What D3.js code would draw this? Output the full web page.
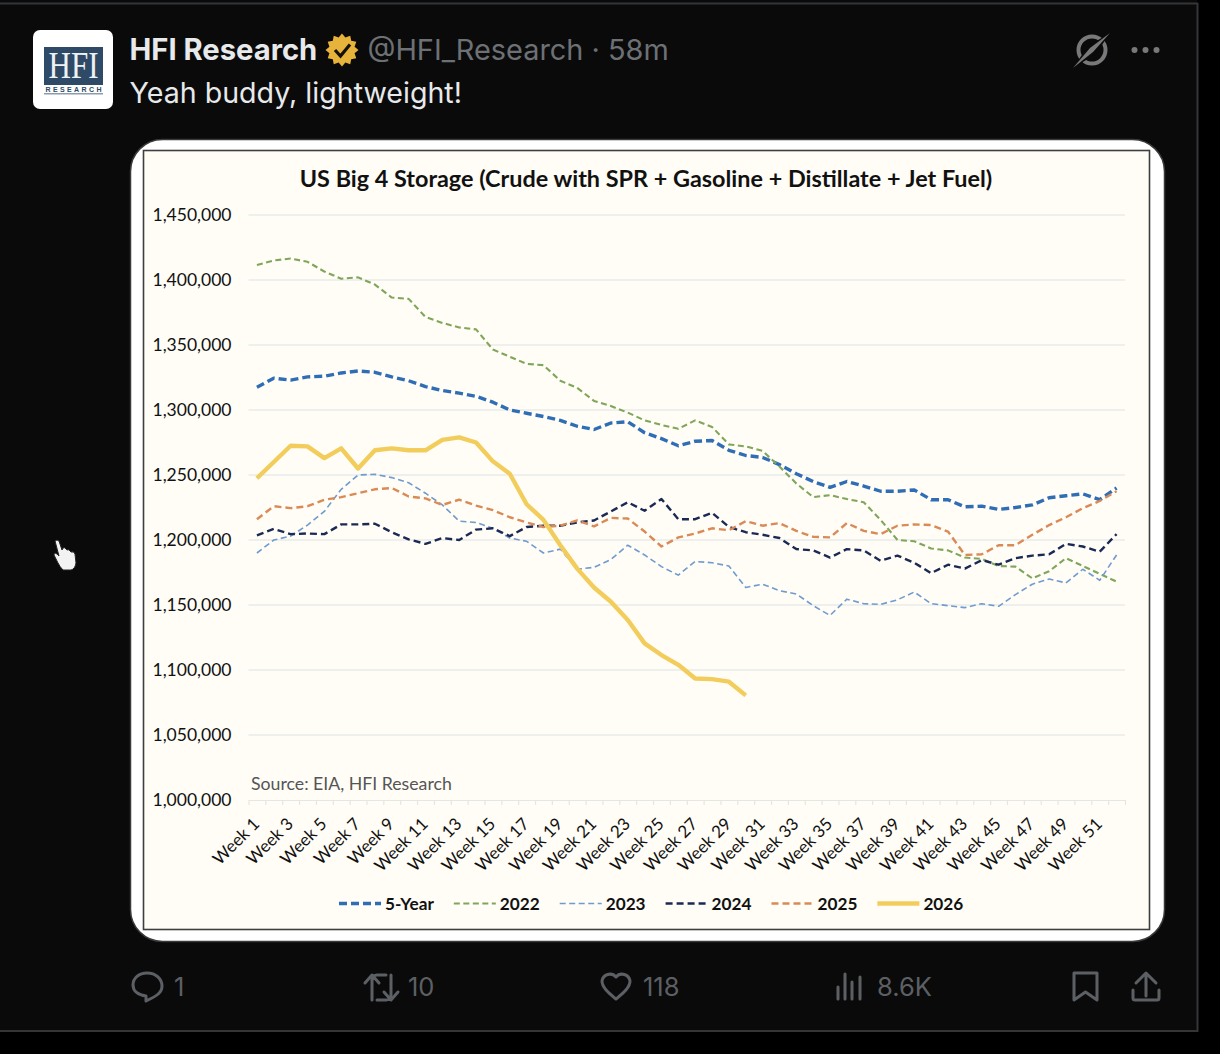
<!DOCTYPE html>
<html>
<head>
<meta charset="utf-8">
<script src="https://cdn.jsdelivr.net/npm/d3@7"></script>
<style>
html, body { margin: 0; padding: 0; background: #000; }
svg { display: block; }
.tw { font-family: Inter, Roboto, sans-serif; }
.ch { font-family: Lato, "Open Sans", sans-serif; }
</style>
</head>
<body>
<svg id="graphique" width="1220" height="1054"></svg>
<script>
// values in thousand barrels
var weeks = d3.range(1, 53);
var yTicks = [1000000, 1050000, 1100000, 1150000, 1200000, 1250000, 1300000, 1350000, 1400000, 1450000];

var fiveYear = [1317.5,1324.5,1323,1325.5,1326,1328.5,1330,1329,1325.5,1322.5,1318,1315,1313,1310.5,1306,1300,1297.5,1295,1292,1287.5,1285,1290,1291,1282.5,1278,1272.5,1276,1276.5,1269,1265,1263.5,1258,1251,1245,1240.5,1245,1241.5,1237.5,1237.5,1238.5,1231,1231,1225.5,1226,1223.5,1225,1227,1232.5,1234,1235.5,1231,1240];
var y2022 = [1411.5,1415,1416.5,1414,1406.5,1401,1402,1396.5,1386.5,1385.5,1371.5,1367,1363.5,1362,1346.5,1341,1335.5,1334.5,1322.5,1317,1307,1303,1298,1292,1288.5,1285.5,1292,1287,1273.5,1272,1268.5,1256.5,1243.5,1233,1234.5,1231.5,1229,1215.5,1200,1199,1193.5,1192,1186.5,1185.5,1180,1179.5,1170.5,1176,1186,1180,1174,1168];
var y2023 = [1190,1200,1203,1211.5,1222,1239,1250,1250.5,1248,1244,1236,1227,1214.5,1213.5,1209,1201.5,1199,1190,1193,1177.5,1179,1185,1196,1188.5,1179.5,1173,1183.5,1182.5,1180,1163.5,1166,1161,1158.5,1149.5,1142,1154.5,1151,1150.5,1154,1160,1151,1149.5,1148,1151,1149,1158,1166,1170,1167,1177.5,1169,1188.5];
var y2024 = [1203.5,1208.5,1204.5,1205,1204.5,1212,1212,1212.5,1206,1200.5,1197,1201.5,1200,1208,1209,1203,1210,1211,1211,1213.5,1215,1222,1229,1222.5,1231.5,1216,1216,1221,1210,1206,1204,1201.5,1193,1192,1186.5,1193,1192,1184,1188,1182.5,1174.5,1181,1178,1184.5,1181,1186,1188,1189,1197,1195,1191,1204.5];
var y2025 = [1216,1226,1224.5,1226,1231,1233,1236,1239,1240,1233.5,1232,1227,1231,1226.5,1223,1217.5,1213.5,1210,1211,1215,1210.5,1217,1216.5,1206.5,1195,1202,1205,1209,1207.5,1214.5,1211,1213,1207,1202.5,1202,1213,1207,1204.5,1211,1212,1211.5,1206.5,1188.5,1189,1196,1196,1204,1211.5,1217.5,1224.5,1230,1237.5];
var y2026 = [1247.5,1260,1272.5,1272,1263,1270.5,1255,1269,1270.5,1269,1269,1277,1279,1275,1260.5,1251,1227.5,1215.5,1196,1178,1163.5,1152.5,1138.5,1120.5,1111.5,1104,1093.5,1093,1091,1080.5];

var seriesNames = ["5-Year", "2022", "2023", "2024", "2025", "2026"];
var seriesValues = [fiveYear, y2022, y2023, y2024, y2025, y2026];
var seriesColors = ["#2f6db5", "#7fa65a", "#6f9bcf", "#1b2a55", "#d98a56", "#f2cd5c"];
var seriesWidths = [3.4, 2.1, 1.6, 2.4, 2.4, 4.4];
var seriesDashes = ["8,4", "6,3.5", "6,3.5", "7,4", "7,4", null];

var graphique = d3.select("#graphique");

//// tweet frame
graphique.append("rect").attr("x", 0).attr("y", 0).attr("width", 1197).attr("height", 1031).attr("fill", "#0a0a0a");
graphique.append("line").attr("x1", 0).attr("x2", 1198).attr("y1", 3.5).attr("y2", 3.5).attr("stroke", "#333537").attr("stroke-width", 2);
graphique.append("line").attr("x1", 0).attr("x2", 1198).attr("y1", 1031).attr("y2", 1031).attr("stroke", "#333537").attr("stroke-width", 2);
graphique.append("line").attr("x1", 1197.5).attr("x2", 1197.5).attr("y1", 3).attr("y2", 1032).attr("stroke", "#333537").attr("stroke-width", 2);

//// avatar
graphique.append("rect").attr("x", 33).attr("y", 30).attr("width", 80).attr("height", 79).attr("rx", 7).attr("fill", "#fff");
graphique.append("rect").attr("x", 44).attr("y", 47).attr("width", 59).attr("height", 38).attr("fill", "#2e4a66");
graphique.append("text").attr("x", 73.5).attr("y", 78).attr("text-anchor", "middle")
	.attr("font-family", "Liberation Serif").attr("font-size", 37).attr("fill", "#eef2f5").attr("textLength", 50).attr("lengthAdjust", "spacingAndGlyphs").text("HFI");
graphique.append("text").attr("x", 73.5).attr("y", 91.5).attr("text-anchor", "middle")
	.attr("font-family", "Liberation Sans").attr("font-size", 7).attr("font-weight", "bold").attr("fill", "#2e4a66").attr("textLength", 56).text("RESEARCH");
graphique.append("rect").attr("x", 44).attr("y", 93).attr("width", 59).attr("height", 1.5).attr("fill", "#8b9cad");

//// header
graphique.append("text").attr("class", "tw").attr("x", 129.5).attr("y", 60).attr("font-size", 29.2).attr("font-weight", 700).attr("fill", "#e7e9ea").text("HFI Research");
var badge = d3.range(24).map(function(i){
	var a = i * Math.PI / 12 - Math.PI / 2, r = i % 2 ? 13 : 16.5;
	return [342 + r * Math.cos(a), 50 + r * Math.sin(a)];
});
graphique.append("path").attr("d", d3.line().curve(d3.curveLinearClosed)(badge)).attr("fill", "#e8b33a");
graphique.append("path").attr("d", "M335,50 L340.5,56 L350,44.5").attr("fill", "none").attr("stroke", "#15110a").attr("stroke-width", 3.2);
graphique.append("text").attr("class", "tw").attr("x", 367.5).attr("y", 60).attr("font-size", 28.9).attr("fill", "#6d7175").text("@HFI_Research · 58m");
graphique.append("text").attr("class", "tw").attr("x", 129.5).attr("y", 103).attr("font-size", 28.6).attr("fill", "#e7e9ea").text("Yeah buddy, lightweight!");

//// top right icons
graphique.append("circle").attr("cx", 1092).attr("cy", 50).attr("r", 13.5).attr("fill", "none").attr("stroke", "#77797b").attr("stroke-width", 4);
graphique.append("path").attr("d", "M1110,33 L1096,54 L1073,68 L1088,46 Z").attr("fill", "#0a0a0a");
graphique.append("path").attr("d", "M1110,33 L1093,52 L1073,68 L1090,48 Z").attr("fill", "#77797b");
graphique.selectAll(".dot").data([1134.5, 1145.5, 1156.5]).enter().append("circle")
	.attr("cx", function(d){ return d; }).attr("cy", 50).attr("r", 3).attr("fill", "#77797b");

//// pointer hand
graphique.append("path")
	.attr("d", "M55,541 q2,-2 4,0 l3,9 l1,-2 q2,-1 3,1 l1,1 q2,-1 3,1 l1,1 q3,-1 4,2 l1,9 q-1,6 -5,7 l-8,0 q-3,-3 -5,-7 l-4,-8 q0,-3 3,-1 l2,2 z")
	.attr("fill", "#f2f2f2").attr("stroke", "#222").attr("stroke-width", 1);

//// image card
graphique.append("rect").attr("x", 130.5).attr("y", 139.5).attr("width", 1034).attr("height", 802).attr("rx", 32)
	.attr("fill", "#fff").attr("stroke", "#3a3a3a").attr("stroke-width", 1.5);
graphique.append("rect").attr("x", 143.5).attr("y", 150.5).attr("width", 1006).attr("height", 779)
	.attr("fill", "#fffdf6").attr("stroke", "#3f3f3f").attr("stroke-width", 1.6);

graphique.append("text").attr("class", "ch").attr("x", 646).attr("y", 187).attr("text-anchor", "middle")
	.attr("font-size", 23.4).attr("font-weight", 700).attr("fill", "#111")
	.text("US Big 4 Storage (Crude with SPR + Gasoline + Distillate + Jet Fuel)");

//// axes
var xScale = d3.scaleBand().domain(weeks).range([248.5, 1125]);
var xEdges = d3.scaleLinear().domain([0, 52]).range([248.5, 1125]);
var yScale = d3.scaleLinear().domain([1000000, 1450000]).range([800, 215]);

var yAxis = d3.axisLeft(yScale).tickValues(yTicks).tickSize(0).tickPadding(17).tickFormat(d3.format(","));
var gy = graphique.append("g").attr("class", "ch").attr("transform", "translate(248.5,0)").call(yAxis);
gy.select(".domain").remove();
gy.selectAll("text").attr("font-size", 17.5).attr("font-family", "Lato").attr("fill", "#111");

graphique.append("g").selectAll("line").data(yTicks.slice(1)).enter().append("line")
	.attr("x1", 248.5).attr("x2", 1125)
	.attr("y1", function(d){ return yScale(d); }).attr("y2", function(d){ return yScale(d); })
	.attr("stroke", "#e8ebeb").attr("stroke-width", 1.3);

var gEdges = graphique.append("g").attr("transform", "translate(0,800)")
	.call(d3.axisBottom(xEdges).tickValues(d3.range(53)).tickSize(5).tickSizeOuter(0).tickFormat(""));
gEdges.selectAll("line, path").attr("stroke", "#e6e6e2").attr("stroke-width", 1.2);

var xAxis = d3.axisBottom(xScale).tickValues(weeks.filter(function(w){ return w % 2 == 1; }))
	.tickSize(0).tickPadding(0).tickFormat(function(w){ return "Week " + w; });
var gx = graphique.append("g").attr("transform", "translate(0,800)").call(xAxis);
gx.select(".domain").remove();
gx.selectAll("text")
	.attr("font-family", "Lato").attr("font-size", 17).attr("fill", "#111")
	.attr("text-anchor", "end").attr("dy", 0).attr("y", 0)
	.attr("transform", "translate(3.5,25) rotate(-45)");

graphique.append("text").attr("class", "ch").attr("x", 251).attr("y", 790).attr("font-size", 17.7).attr("fill", "#555").text("Source: EIA, HFI Research");

//// courbes
var line = d3.line()
	.x(function(d, i){ return xScale(weeks[i]) + xScale.bandwidth() / 2; })
	.y(function(d){ return yScale(d * 1000); })
	.curve(d3.curveLinear);

seriesValues.forEach(function(values, s){
	graphique.append("path")
		.attr("d", line(values))
		.attr("fill", "none")
		.attr("stroke", seriesColors[s])
		.attr("stroke-width", seriesWidths[s])
		.attr("stroke-dasharray", seriesDashes[s])
		.attr("stroke-linejoin", "round");
});

//// legende
var legX = 339;
seriesNames.forEach(function(nom, s){
	graphique.append("line").attr("x1", legX).attr("x2", legX + 42).attr("y1", 903.5).attr("y2", 903.5)
		.attr("stroke", seriesColors[s]).attr("stroke-width", seriesWidths[s]).attr("stroke-dasharray", seriesDashes[s]);
	var t = graphique.append("text").attr("class", "ch").attr("x", legX + 46).attr("y", 909.5)
		.attr("font-size", 17.2).attr("font-weight", 700).attr("fill", "#111").text(nom);
	legX += 46 + t.node().getComputedTextLength() + 20;
});

//// action bar
var dim = "#5c6064";
function actionText(x, s){
	graphique.append("text").attr("class", "tw").attr("x", x).attr("y", 996).attr("font-size", 25.5).attr("fill", dim).text(s);
}
function icon(d, sw){
	graphique.append("path").attr("d", d).attr("fill", "none").attr("stroke", dim).attr("stroke-width", sw || 3)
		.attr("stroke-linecap", "round").attr("stroke-linejoin", "round");
}
icon("M147,973 c9,0 15,6 15,13 c0,7 -6,10 -12,13 l-4,2 l0,-5 c-8,-1 -13,-5 -13,-11 c0,-7 6,-12 14,-12 z");
actionText(174, "1");
icon("M372,1000 l0,-20 a5,5 0 0 1 5,-5 l9,0 M365,983 l7,-8 l7,8 M391,975 l0,20 a5,5 0 0 1 -5,5 l-9,0 M384,992 l7,8 l7,-8");
actionText(408, "10");
icon("M616,999 c-6,-5 -14,-11 -14,-18 a8,8 0 0 1 14,-4 a8,8 0 0 1 14,4 c0,7 -8,13 -14,18 z");
actionText(643, "118");
icon("M838,999 l0,-12 M845,999 l0,-25 M852,999 l0,-17 M860,999 l0,-22");
actionText(877, "8.6K");
icon("M1074,973 l23,0 l0,27 l-11.5,-8 l-11.5,8 z");
icon("M1146,996 l0,-22 M1136,983 l10,-10 l10,10 M1133,990 l0,8 a2,2 0 0 0 2,2 l22,0 a2,2 0 0 0 2,-2 l0,-8");
</script>
</body>
</html>
